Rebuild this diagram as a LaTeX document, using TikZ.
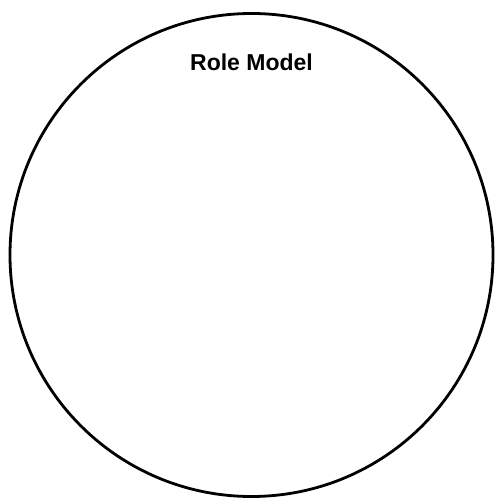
\documentclass[tikz,border=0pt]{standalone}
\usepackage{fontspec}
\setmainfont{Liberation Sans}
\begin{document}
\begin{tikzpicture}[x=1pt,y=-1pt,
  ring/.style={draw=black,line width=2.8pt},
  title/.style={font=\fontsize{23}{27}\selectfont\bfseries,inner sep=0pt,anchor=base}]
\useasboundingbox (0,0) rectangle (497,502);
\node[ring,circle,minimum size=483pt,inner sep=0pt] (c) at (251.5,255) {};
\node[title] (t) at (251.5,71) {Role Model};
\end{tikzpicture}
\end{document}
